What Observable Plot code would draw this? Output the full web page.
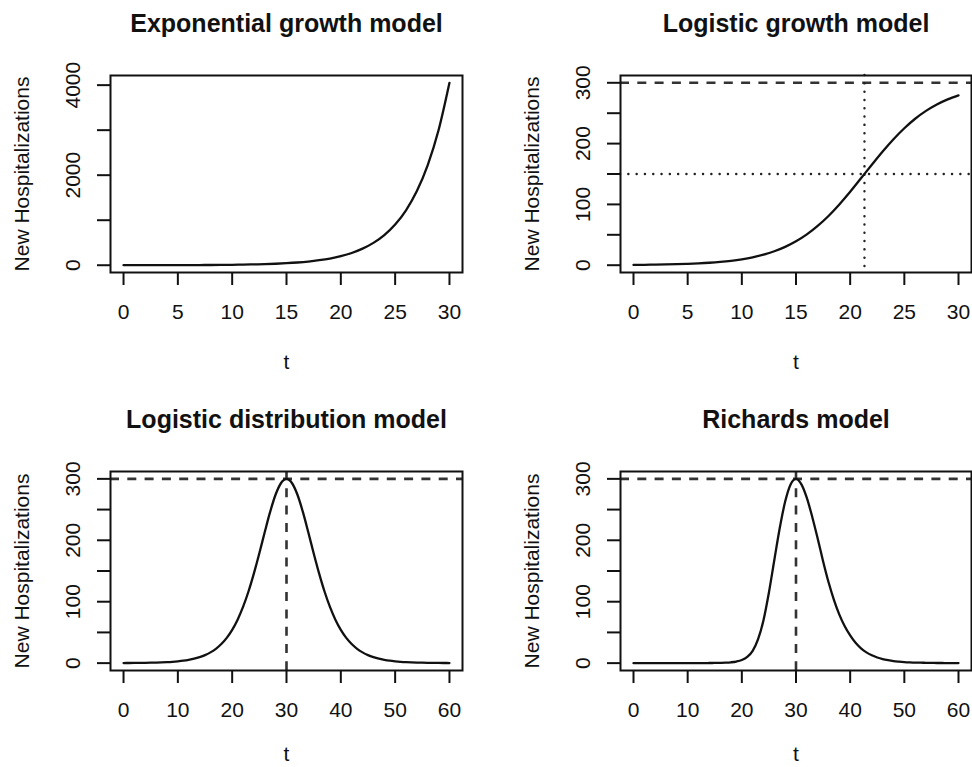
<!DOCTYPE html>
<html>
<head>
<meta charset="utf-8">
<script src="https://cdn.jsdelivr.net/npm/d3@7"></script>
<script src="https://cdn.jsdelivr.net/npm/@observablehq/plot@0.6"></script>
<style>
html, body { margin: 0; padding: 0; background: #fff; }
#wrap { position: relative; width: 972px; height: 767px; overflow: hidden; background: #fff; }
#wrap > .panel { position: absolute; }
</style>
</head>
<body>
<div id="wrap"></div>
<script>
// ---------- data ----------
const titles = ["Exponential growth model", "Logistic growth model", "Logistic distribution model", "Richards model"];
const yAxisLabel = "New Hospitalizations";
const xAxisLabel = "t";

const tGrowth = [0,1,2,3,4,5,6,7,8,9,10,11,12,13,14,15,16,17,18,19,20,21,22,23,24,25,26,27,28,29,30];
const expGrowth = [0.5,0.67,0.91,1.23,1.66,2.24,3.02,4.08,5.51,7.44,10.0,13.6,18.3,24.7,33.3,45.0,60.8,82.0,111,149,202,272,368,496,670,904,1221,1648,2224,3002,4052];
const logGrowth = [0.5,0.67,0.91,1.23,1.65,2.23,3.0,4.03,5.42,7.27,9.74,13.0,17.3,22.9,30.1,39.2,50.6,64.6,81.0,99.9,120.7,142.9,165.3,187.1,207.3,225.3,240.9,253.8,264.4,272.8,279.4];

const tPeak = [0,1,2,3,4,5,6,7,8,9,10,11,12,13,14,15,16,17,18,19,20,21,22,23,24,25,26,27,28,29,30,31,32,33,34,35,36,37,38,39,40,41,42,43,44,45,46,47,48,49,50,51,52,53,54,55,56,57,58,59,60];
const logDist = [0.15,0.2,0.27,0.36,0.49,0.66,0.9,1.2,1.6,2.2,3.0,4.0,5.4,7.2,9.7,13.0,17.5,23.3,31.1,41.2,54.2,70.8,91.5,116.6,146.1,179.0,213.5,246.6,274.5,293.3,300,293.3,274.5,246.6,213.5,179.0,146.1,116.6,91.5,70.8,54.2,41.2,31.1,23.3,17.5,13.0,9.7,7.2,5.4,4.0,3.0,2.2,1.6,1.2,0.9,0.66,0.49,0.36,0.27,0.2,0.15];
const richards = [0,0,0,0,0,0,0,0,0,0,0,0,0.1,0.1,0.2,0.3,0.5,0.8,1.4,2.6,5,10,20,39,70,115,168,220,263,291,300,291,269,238,203,166,132,103,79,60,45,33,24,17.5,12.7,9.2,6.6,4.8,3.4,2.5,1.8,1.3,0.9,0.7,0.5,0.35,0.25,0.18,0.13,0.1,0.07];

const capacityK = 300;
const halfCapacity = 150;
const tInflection = 21.32;
const tPeakTime = 30;

const xTicksGrowth = [0,5,10,15,20,25,30];
const xTicksPeak = [0,10,20,30,40,50,60];
const yTicksExp = [0,1000,2000,3000,4000];
const yLabelsExp = [0,2000,4000];
const yTicks300 = [0,50,100,150,200,250,300];
const yLabels300 = [0,100,200,300];

// ---------- helpers ----------
const INK = "#111";
function pad4(lo, hi) { const r = hi - lo; return [lo - 0.04 * r, hi + 0.04 * r]; }

function panel({title, t, v, xDomain, yDomain, xTicks, yTicks, yLabels, marginLeft, marginRight, marginBottom, tOffset, extra}) {
  const rows = t.map((d, i) => ({t: d, v: v[i]}));
  return Plot.plot({
    width: 486,
    height: 396,
    marginLeft, marginRight, marginTop: 75, marginBottom,
    x: {domain: xDomain},
    y: {domain: yDomain},
    style: {fontFamily: "'Liberation Sans', Arial, Helvetica, sans-serif", fontSize: "21px", color: INK, background: "transparent", overflow: "visible"},
    marks: [
      ...extra,
      Plot.line(rows, {x: "t", y: "v", stroke: INK, strokeWidth: 2.3, curve: "monotone-x"}),
      Plot.frame({stroke: INK, strokeWidth: 2}),
      Plot.axisX(xTicks, {tickSize: 13, tickPadding: 19, fontSize: 21, strokeWidth: 2, label: null, tickFormat: d => String(d)}),
      Plot.axisY(yTicks, {tickSize: 13, tickPadding: 18, tickRotate: -90, fontSize: 21, strokeWidth: 2, label: null,
        tickFormat: d => yLabels.includes(d) ? String(d) : ""}),
      Plot.text([yAxisLabel], {frameAnchor: "left", dx: -88, rotate: -90, textAnchor: "middle", lineAnchor: "middle", fontSize: 21, fill: INK}),
      Plot.text([xAxisLabel], {frameAnchor: "bottom", dy: tOffset, textAnchor: "middle", lineAnchor: "middle", fontSize: 21, fill: INK}),
      Plot.text([title], {frameAnchor: "top", dy: -52, textAnchor: "middle", lineAnchor: "middle", fontSize: 25, fontWeight: "bold", fill: INK})
    ]
  });
}

const dashStyle = {stroke: "#333", strokeWidth: 2.6, strokeDasharray: "9,8.3"};
const dotStyle = {stroke: "#222", strokeWidth: 2.4, strokeDasharray: "0.1,8.2", strokeLinecap: "round"};

const wrap = document.getElementById("wrap");
function place(node, left, top) {
  const d = document.createElement("div");
  d.className = "panel";
  d.style.left = left + "px";
  d.style.top = top + "px";
  d.appendChild(node);
  wrap.appendChild(d);
}

place(panel({
  title: titles[0], t: tGrowth, v: expGrowth,
  xDomain: pad4(0, 30), yDomain: pad4(d3.min(expGrowth), d3.max(expGrowth)),
  xTicks: xTicksGrowth, yTicks: yTicksExp, yLabels: yLabelsExp,
  marginLeft: 110, marginRight: 24, marginBottom: 124, tOffset: 90, extra: []
}), 0, 0);

place(panel({
  title: titles[1], t: tGrowth, v: logGrowth,
  xDomain: pad4(0, 30), yDomain: pad4(0, 300),
  xTicks: xTicksGrowth, yTicks: yTicks300, yLabels: yLabels300,
  marginLeft: 134, marginRight: 1, marginBottom: 124, tOffset: 90,
  extra: [
    Plot.ruleY([capacityK], dashStyle),
    Plot.ruleY([halfCapacity], dotStyle),
    Plot.ruleX([tInflection], dotStyle)
  ]
}), 486, 0);

place(panel({
  title: titles[2], t: tPeak, v: logDist,
  xDomain: pad4(0, 60), yDomain: pad4(0, 300),
  xTicks: xTicksPeak, yTicks: yTicks300, yLabels: yLabels300,
  marginLeft: 110, marginRight: 24, marginBottom: 122, tOffset: 84,
  extra: [
    Plot.ruleY([capacityK], dashStyle),
    Plot.ruleX([tPeakTime], dashStyle)
  ]
}), 0, 396);

place(panel({
  title: titles[3], t: tPeak, v: richards,
  xDomain: pad4(0, 60), yDomain: pad4(0, 300),
  xTicks: xTicksPeak, yTicks: yTicks300, yLabels: yLabels300,
  marginLeft: 134, marginRight: 1, marginBottom: 122, tOffset: 84,
  extra: [
    Plot.ruleY([capacityK], dashStyle),
    Plot.ruleX([tPeakTime], dashStyle)
  ]
}), 486, 396);
</script>
</body>
</html>
